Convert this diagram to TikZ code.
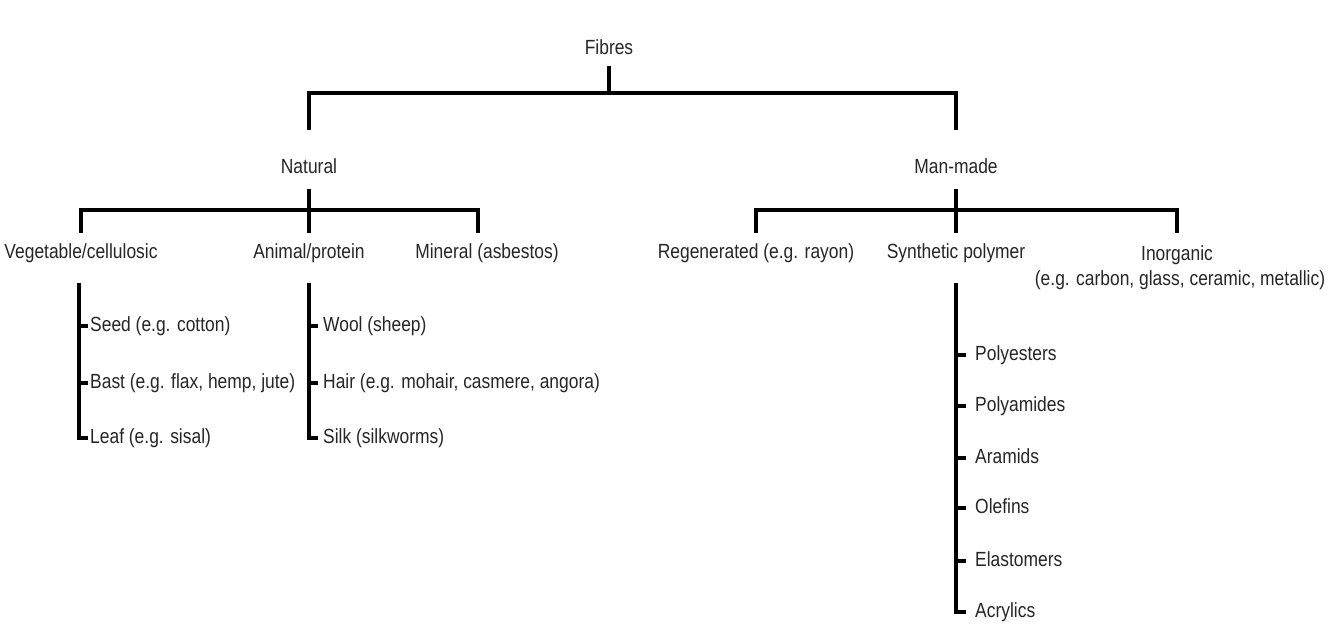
\documentclass[tikz,border=0pt]{standalone}
\usepackage{fontspec}
\setmainfont{Liberation Sans}[FakeStretch=0.85]
\begin{document}
\begin{tikzpicture}[x=1pt,y=-1pt,
  lbl/.style={inner sep=0pt, font=\fontsize{20.5}{24}\selectfont, text=black!85, text height=15pt, text depth=4pt},
  lbltwo/.style={inner sep=0pt, font=\fontsize{20.5}{25}\selectfont, text=black!85, align=center},
  bar/.style={line width=3.6pt, black},
  tick/.style={line width=3.6pt, black}]
\useasboundingbox[fill=white] (0,0) rectangle (1334,635);
% level 0
\node[lbl] (fib) at (609,49) {Fibres};
\coordinate (j0) at (609,93);
\draw[bar, shorten <=7pt] (fib.south) -- (j0);
% level 1
\node[lbl] (nat) at (309,168) {Natural};
\node[lbl] (man) at (956,168) {Man-made};
\draw[bar, shorten >=28pt] (j0) -| (nat.north);
\draw[bar, shorten >=28pt] (j0) -| (man.north);
% natural subtree
\coordinate (j1) at (309,210);
\draw[bar, shorten <=11pt] (nat.south) -- (j1);
\node[lbl] (veg) at (81,253) {Vegetable/cellulosic};
\node[lbl] (ani) at (309,253) {Animal/protein};
\node[lbl] (min) at (487,253) {Mineral (asbestos)};
\draw[bar, shorten >=10pt] (j1) -| (veg.north);
\draw[bar, shorten >=10pt] (j1) -- (ani.north);
\draw[bar, shorten >=10pt] (j1) -| ([xshift=-9pt]min.north);
% man-made subtree
\coordinate (j2) at (956,210);
\draw[bar, shorten <=11pt] (man.south) -- (j2);
\node[lbl] (reg) at (756,253) {Regenerated (e.g. rayon)};
\node[lbl] (syn) at (956,253) {Synthetic polymer};
\node[lbltwo, anchor=north] (ino) at (1180,245) {\hspace*{-6pt}Inorganic\\(e.g. carbon, glass, ceramic, metallic)};
\draw[bar] (j2) -| ([xshift=-3pt]ino.north |- 0,233);
\draw[bar, shorten >=10pt] (j2) -| (reg.north);
\draw[bar, shorten >=10pt] (j2) -- (syn.north);
% vegetable items
\coordinate (vs) at (79,283);
\node[lbl, anchor=west] (seed) at (90,326) {Seed (e.g. cotton)};
\node[lbl, anchor=west] (bast) at (90,383) {Bast (e.g. flax, hemp, jute)};
\node[lbl, anchor=west] (leaf) at (90,438) {Leaf (e.g. sisal)};
\draw[bar, shorten >=2pt] (vs) |- (leaf.west);
\draw[tick, shorten >=2pt] (vs |- seed.west) -- (seed.west);
\draw[tick, shorten >=2pt] (vs |- bast.west) -- (bast.west);
% animal items
\coordinate (as) at (309,283);
\node[lbl, anchor=west] (wool) at (323,326) {Wool (sheep)};
\node[lbl, anchor=west] (hair) at (323,383) {Hair (e.g. mohair, casmere, angora)};
\node[lbl, anchor=west] (silk) at (323,438) {Silk (silkworms)};
\draw[bar, shorten >=5pt] (as) |- (silk.west);
\draw[tick, shorten >=5pt] (as |- wool.west) -- (wool.west);
\draw[tick, shorten >=5pt] (as |- hair.west) -- (hair.west);
% synthetic items
\coordinate (ss) at (956,283);
\node[lbl, anchor=west] (pes) at (975,355) {Polyesters};
\node[lbl, anchor=west] (pam) at (975,406) {Polyamides};
\node[lbl, anchor=west] (ara) at (975,458) {Aramids};
\node[lbl, anchor=west] (ole) at (975,508) {Olefins};
\node[lbl, anchor=west] (ela) at (975,561) {Elastomers};
\node[lbl, anchor=west] (acr) at (975,612) {Acrylics};
\draw[bar, shorten >=9pt] (ss) |- (acr.west);
\foreach \n in {pes,pam,ara,ole,ela}
  \draw[tick, shorten >=9pt] (ss |- \n.west) -- (\n.west);
\end{tikzpicture}
\end{document}
